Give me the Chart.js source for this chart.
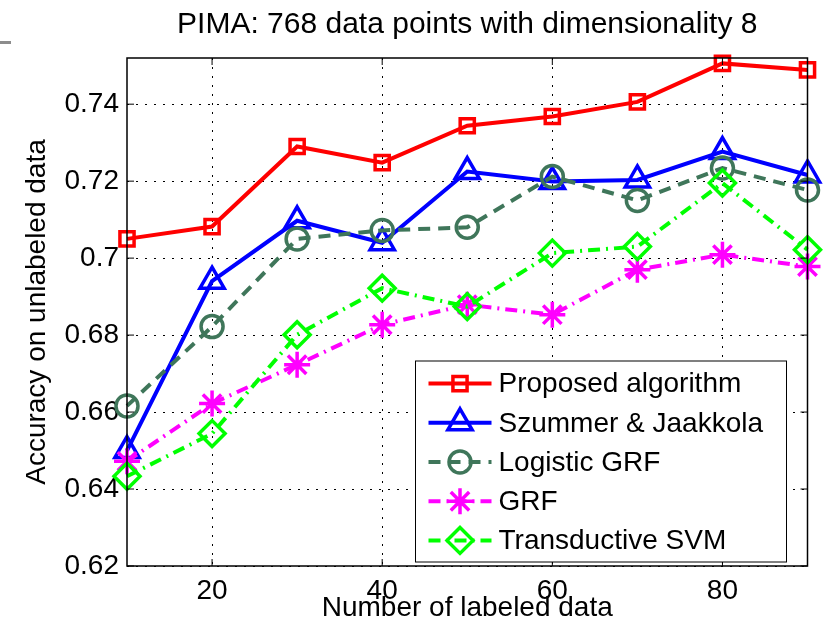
<!DOCTYPE html>
<html>
<head>
<meta charset="utf-8">
<script src="https://cdn.jsdelivr.net/npm/chart.js@4/dist/chart.umd.min.js"></script>
<style>
  body { margin: 0; background: #fff; }
  #wrap { width: 825px; height: 634px; }
</style>
</head>
<body>
<div id="wrap"><canvas id="line-chart" width="825" height="634"></canvas></div>
<script>
var numLabeled = [10, 20, 30, 40, 50, 60, 70, 80, 90];
var proposed  = [0.705, 0.7082, 0.729, 0.7248, 0.7344, 0.7368, 0.7406, 0.7506, 0.7489];
var szummer   = [0.650, 0.6940, 0.7097, 0.7040, 0.7225, 0.7199, 0.7203, 0.7277, 0.7216];
var logGrf    = [0.6616, 0.6822, 0.7050, 0.7072, 0.7080, 0.7212, 0.7150, 0.7234, 0.7177];
var grf       = [0.6472, 0.6622, 0.6723, 0.6827, 0.6879, 0.6853, 0.6970, 0.7009, 0.6978];
var tsvm      = [0.6433, 0.6544, 0.6801, 0.6922, 0.6874, 0.7013, 0.7030, 0.7195, 0.7022];

var xTicks = [20, 40, 60, 80];
var yTicks = [0.62, 0.64, 0.66, 0.68, 0.70, 0.72, 0.74];

var fontFam = "'Liberation Sans', Arial, Helvetica, sans-serif";

function pts(vals) {
  return vals.map(function (v, i) { return { x: numLabeled[i], y: v }; });
}

function series(label, vals, color, dash, style, radius, order) {
  return {
    label: label,
    data: pts(vals),
    borderColor: color,
    borderWidth: 4,
    borderDash: dash,
    pointStyle: style,
    pointRadius: radius,
    pointHoverRadius: radius,
    pointBorderWidth: 3.5,
    pointBorderColor: color,
    pointBackgroundColor: 'rgba(0,0,0,0)',
    fill: false,
    tension: 0,
    clip: false,
    order: order
  };
}

// box, inner ticks and the little grey mark in the corner
var boxPlugin = {
  id: 'matlabBox',
  afterDatasetsDraw: function (chart) {
    var ctx = chart.ctx, a = chart.chartArea;
    var xs = chart.scales.x, ys = chart.scales.y;
    ctx.save();
    ctx.strokeStyle = '#000';
    ctx.lineWidth = 1.5;
    ctx.setLineDash([]);
    ctx.strokeRect(a.left, a.top, a.right - a.left, a.bottom - a.top);
    ctx.lineWidth = 1;
    ctx.beginPath();
    xTicks.forEach(function (v) {
      var px = xs.getPixelForValue(v);
      ctx.moveTo(px, a.bottom); ctx.lineTo(px, a.bottom - 7);
      ctx.moveTo(px, a.top); ctx.lineTo(px, a.top + 7);
    });
    yTicks.forEach(function (v) {
      var py = ys.getPixelForValue(v);
      ctx.moveTo(a.left, py); ctx.lineTo(a.left + 7, py);
      ctx.moveTo(a.right, py); ctx.lineTo(a.right - 7, py);
    });
    ctx.stroke();
    ctx.fillStyle = '#8c8c8c';
    ctx.fillRect(0, 41, 11, 3);
    ctx.restore();
  }
};

// legend drawn inside the plot, lower right
var legendPlugin = {
  id: 'innerLegend',
  afterDraw: function (chart) {
    var ctx = chart.ctx, a = chart.chartArea;
    var left = a.right - 392, top = a.bottom - 205;
    var w = 371, h = 201, rowH = 39.2;
    ctx.save();
    ctx.fillStyle = '#fff';
    ctx.fillRect(left, top, w, h);
    ctx.strokeStyle = '#000';
    ctx.lineWidth = 1;
    ctx.strokeRect(left, top, w, h);
    chart.data.datasets.forEach(function (ds, i) {
      var y = top + 22.6 + i * rowH;
      ctx.strokeStyle = ds.borderColor;
      ctx.lineWidth = ds.borderWidth;
      ctx.setLineDash(ds.borderDash || []);
      ctx.beginPath();
      ctx.moveTo(left + 13, y);
      ctx.lineTo(left + 76, y);
      ctx.stroke();
      ctx.setLineDash([]);
      ctx.lineWidth = ds.pointBorderWidth;
      ctx.fillStyle = 'rgba(0,0,0,0)';
      Chart.helpers.drawPoint(ctx, {
        pointStyle: ds.pointStyle, radius: ds.pointRadius, rotation: 0, borderWidth: ds.pointBorderWidth
      }, left + 44.5, y);
      ctx.fillStyle = '#000';
      ctx.font = "28px " + fontFam;
      ctx.textBaseline = 'middle';
      ctx.textAlign = 'left';
      ctx.fillText(ds.label, left + 83, y + 1);
    });
    ctx.restore();
  }
};

function drawChart() {
  new Chart(document.getElementById('line-chart'), {
    type: 'line',
    data: {
      datasets: [
        series('Proposed algorithm', proposed, '#ff0000', [], 'rect', 10, 5),
        series('Szummer & Jaakkola', szummer, '#0000ff', [], 'triangle', 14, 4),
        series('Logistic GRF', logGrf, '#3f765a', [12, 8], 'circle', 11, 3),
        series('GRF', grf, '#ff00ff', [12, 6, 2, 6], 'star', 13, 2),
        series('Transductive SVM', tsvm, '#00ff00', [12, 6, 2, 6], 'rectRot', 13, 1)
      ]
    },
    options: {
      responsive: false,
      animation: false,
      layout: { padding: { left: 0, right: 16, top: 0, bottom: 0 } },
      plugins: {
        legend: { display: false },
        tooltip: { enabled: false },
        title: {
          display: true,
          fullSize: false,
          text: 'PIMA: 768 data points with dimensionality 8',
          color: '#000',
          font: { family: fontFam, size: 30, weight: 'normal' },
          padding: { top: 7, bottom: 15 }
        }
      },
      scales: {
        x: {
          type: 'linear',
          position: 'bottom',
          min: 10,
          max: 90,
          afterBuildTicks: function (s) { s.ticks = xTicks.map(function (v) { return { value: v }; }); },
          afterFit: function (s) { s.height = 68; },
          grid: { color: '#000', lineWidth: 1, drawTicks: false },
          border: { display: false, dash: [2, 7] },
          ticks: { color: '#000', padding: 8, font: { family: fontFam, size: 28 } },
          title: {
            display: true,
            text: 'Number of labeled data',
            color: '#000',
            font: { family: fontFam, size: 28 },
            padding: { top: 0, bottom: 9 }
          }
        },
        y: {
          type: 'linear',
          min: 0.62,
          max: 0.752,
          afterBuildTicks: function (s) { s.ticks = yTicks.map(function (v) { return { value: v }; }); },
          afterFit: function (s) { s.width = 127; },
          grid: { color: '#000', lineWidth: 1, drawTicks: false },
          border: { display: false, dash: [2, 7] },
          ticks: {
            color: '#000',
            padding: 8,
            font: { family: fontFam, size: 28 },
            callback: function (v) { return String(+v.toFixed(2)); }
          },
          title: {
            display: true,
            text: 'Accuracy on unlabeled data',
            color: '#000',
            font: { family: fontFam, size: 28 },
            padding: { top: 20, bottom: 0 }
          }
        }
      }
    },
    plugins: [boxPlugin, legendPlugin]
  });
}

drawChart();
</script>
</body>
</html>
